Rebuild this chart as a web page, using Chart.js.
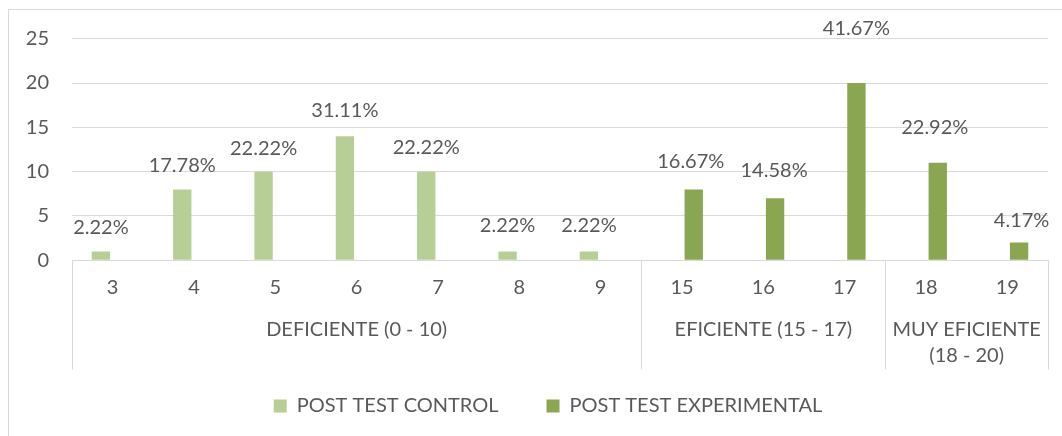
<!DOCTYPE html>
<html>
<head>
<meta charset="utf-8">
<script src="https://cdn.jsdelivr.net/npm/chart.js@4.4.1/dist/chart.umd.min.js"></script>
<style>
  html, body { margin: 0; padding: 0; background: #ffffff; }
  #wrap { width: 1062px; height: 436px; }
</style>
</head>
<body>
<div id="wrap"><canvas id="c" width="1062" height="436"></canvas></div>
<script>
// ---- data ----
const categories = ["3", "4", "5", "6", "7", "8", "9", "15", "16", "17", "18", "19"];
const controlValues = [1, 8, 10, 14, 10, 1, 1, null, null, null, null, null];
const experimentalValues = [null, null, null, null, null, null, null, 8, 7, 20, 11, 2];
const controlLabels = ["2.22%", "17.78%", "22.22%", "31.11%", "22.22%", "2.22%", "2.22%", null, null, null, null, null];
const experimentalLabels = [null, null, null, null, null, null, null, "16.67%", "14.58%", "41.67%", "22.92%", "4.17%"];
const groupLabels = [["DEFICIENTE (0 - 10)"], ["EFICIENTE (15 - 17)"], ["MUY EFICIENTE", "(18 - 20)"]];
const groupSizes = [7, 3, 2];
const seriesNames = ["POST TEST CONTROL", "POST TEST EXPERIMENTAL"];
const yMin = 0, yMax = 25, yStep = 5;

// ---- styling ----
const TEXT = "#595959";
const GRID = "#D9D9D9";
const FONT_FAMILY = "Lato, 'Open Sans', sans-serif";
const FONT_SIZE = 20;
const COLORS = ["#B7CF95", "#8BA650"];
// label nudges (pixels above bar top / sideways), per category
const labelLift = [24, 23.5, 23, 25.5, 24, 26, 26, 28, 28, 54, 35, 22.5];
const labelShift = [0, 0, 0, 0, 0, 0, 0, -3, -1, 0, -3, 2.5];
const LEGEND_SHIFT = 24;

const frame = {
  id: 'frame',
  beforeDraw(chart) {
    const ctx = chart.ctx;
    ctx.save();
    ctx.fillStyle = '#ffffff';
    ctx.fillRect(0, 0, chart.width, chart.height);
    ctx.strokeStyle = GRID;
    ctx.lineWidth = 1;
    ctx.strokeRect(8.5, 9.5, 1200, 1000);
    ctx.restore();
  }
};

const legendShift = {
  id: 'legendShift',
  afterLayout(chart) {
    if (chart.legend) {
      chart.legend.left += LEGEND_SHIFT;
      chart.legend.right += LEGEND_SHIFT;
    }
  }
};

const dataLabels = {
  id: 'dataLabels',
  afterDatasetsDraw(chart) {
    const ctx = chart.ctx;
    ctx.save();
    ctx.font = FONT_SIZE + "px " + FONT_FAMILY;
    ctx.fillStyle = TEXT;
    ctx.textAlign = 'center';
    ctx.textBaseline = 'middle';
    chart.data.datasets.forEach((ds, di) => {
      const meta = chart.getDatasetMeta(di);
      meta.data.forEach((el, i) => {
        if (ds.data[i] == null || !ds.pctLabels[i]) return;
        ctx.fillText(ds.pctLabels[i], el.x + labelShift[i], el.y - labelLift[i]);
      });
    });
    ctx.restore();
  }
};

const groupAxis = {
  id: 'groupAxis',
  afterDraw(chart) {
    const ctx = chart.ctx;
    const xs = chart.scales.x;
    const bottom = chart.chartArea.bottom;
    const half = (xs.getPixelForTick(1) - xs.getPixelForTick(0)) / 2;
    ctx.save();
    ctx.strokeStyle = GRID;
    ctx.lineWidth = 1;
    ctx.font = FONT_SIZE + "px " + FONT_FAMILY;
    ctx.fillStyle = TEXT;
    ctx.textAlign = 'center';
    ctx.textBaseline = 'middle';
    let start = 0;
    const edges = [xs.getPixelForTick(0) - half];
    groupSizes.forEach((n, g) => {
      const end = start + n - 1;
      const left = xs.getPixelForTick(start) - half;
      const right = xs.getPixelForTick(end) + half;
      edges.push(right);
      const cx = (left + right) / 2;
      groupLabels[g].forEach((line, k) => {
        ctx.fillText(line, cx, bottom + 69 + k * 26);
      });
      start += n;
    });
    edges.forEach(px => {
      const xx = Math.round(px) + 0.5;
      ctx.beginPath();
      ctx.moveTo(xx, bottom);
      ctx.lineTo(xx, bottom + 109);
      ctx.stroke();
    });
    ctx.restore();
  }
};

new Chart(document.getElementById('c'), {
  type: 'bar',
  data: {
    labels: categories,
    datasets: [
      { label: seriesNames[0], data: controlValues, pctLabels: controlLabels, backgroundColor: COLORS[0], borderWidth: 0 },
      { label: seriesNames[1], data: experimentalValues, pctLabels: experimentalLabels, backgroundColor: COLORS[1], borderWidth: 0 }
    ]
  },
  options: {
    responsive: false,
    animation: false,
    devicePixelRatio: 1,
    categoryPercentage: 0.578,
    barPercentage: 0.78,
    layout: { padding: { top: 38.7, left: 0, right: 14, bottom: 10 } },
    plugins: {
      tooltip: { enabled: false },
      legend: {
        position: 'bottom',
        labels: {
          color: TEXT,
          font: { family: FONT_FAMILY, size: FONT_SIZE },
          boxWidth: 13,
          boxHeight: 13,
          padding: 48
        }
      }
    },
    scales: {
      x: {
        grid: { display: false, drawTicks: false },
        border: { display: false },
        ticks: { color: TEXT, font: { family: FONT_FAMILY, size: FONT_SIZE }, padding: 15, maxRotation: 0, autoSkip: false },
        afterFit(scale) { scale.height = 87.7; }
      },
      y: {
        min: yMin, max: yMax,
        grid: { color: GRID, lineWidth: 1, drawTicks: false },
        border: { display: false },
        ticks: { stepSize: yStep, autoSkip: false, color: TEXT, font: { family: FONT_FAMILY, size: FONT_SIZE }, padding: 23 },
        afterFit(scale) { scale.width = 72; }
      }
    }
  },
  plugins: [frame, legendShift, dataLabels, groupAxis]
});
</script>
</body>
</html>
